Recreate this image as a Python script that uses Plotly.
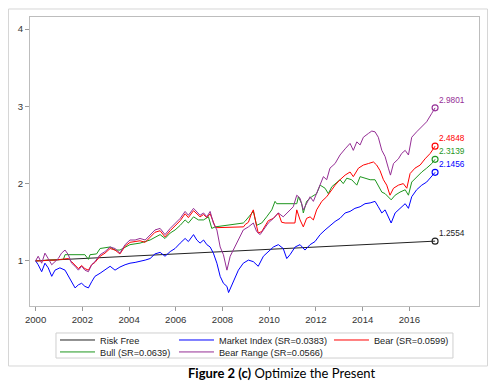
import plotly.graph_objects as go

# ---------------- data ----------------
rf_t = [2000.0, 2004.0, 2008.0, 2012.0, 2017.1]
rf_v = [1.0, 1.058, 1.12, 1.18, 1.2554]

mkt_t = [2000.00, 2000.11, 2000.26, 2000.40, 2000.54, 2000.69, 2000.83, 2001.04, 2001.26, 2001.40,
         2001.54, 2001.69, 2001.83, 2001.97, 2002.11, 2002.26, 2002.40, 2002.54, 2002.76, 2002.97,
         2003.19, 2003.40, 2003.61, 2003.83, 2004.04, 2004.26, 2004.47, 2004.69, 2004.90, 2005.11,
         2005.33, 2005.54, 2005.76, 2005.97, 2006.19, 2006.40, 2006.54, 2006.76, 2006.90, 2007.04,
         2007.19, 2007.33, 2007.47, 2007.61, 2007.76, 2007.90, 2008.04, 2008.19, 2008.26, 2008.40,
         2008.54, 2008.68, 2008.89, 2009.11, 2009.32, 2009.53, 2009.75, 2009.96, 2010.18, 2010.39,
         2010.60, 2010.75, 2010.89, 2011.11, 2011.32, 2011.53, 2011.75, 2011.96, 2012.18, 2012.39,
         2012.60, 2012.82, 2013.03, 2013.25, 2013.46, 2013.67, 2013.89, 2014.10, 2014.32, 2014.53,
         2014.67, 2014.82, 2014.96, 2015.10, 2015.22, 2015.39, 2015.60, 2015.82, 2015.96, 2016.10,
         2016.31, 2016.53, 2016.74, 2016.96, 2017.10]
mkt_v = [1.00, 0.95, 0.86, 0.97, 0.91, 0.80, 0.88, 0.91, 0.88, 0.80,
         0.73, 0.65, 0.69, 0.71, 0.67, 0.65, 0.73, 0.80, 0.84, 0.88,
         0.93, 0.88, 0.92, 0.95, 0.97, 0.98, 0.99, 1.01, 1.03, 1.09,
         1.11, 1.06, 1.12, 1.16, 1.23, 1.29, 1.25, 1.34, 1.27, 1.23,
         1.27, 1.21, 1.18, 1.10, 0.97, 0.80, 0.71, 0.67, 0.59, 0.69,
         0.80, 0.88, 0.97, 1.01, 0.99, 0.93, 1.06, 1.12, 1.18, 1.21,
         1.16, 1.03, 1.08, 1.18, 1.21, 1.14, 1.21, 1.25, 1.34, 1.40,
         1.46, 1.51, 1.55, 1.62, 1.64, 1.68, 1.70, 1.74, 1.75, 1.77,
         1.70, 1.62, 1.66, 1.57, 1.49, 1.62, 1.68, 1.74, 1.68, 1.83,
         1.92, 1.98, 2.02, 2.09, 2.1456]

bear_t = [2000.00, 2000.26, 2000.54, 2000.83, 2001.11, 2001.40, 2001.54, 2001.69, 2001.83, 2001.97,
          2002.11, 2002.26, 2002.40, 2002.54, 2002.76, 2002.97, 2003.19, 2003.40, 2003.61, 2003.83,
          2004.04, 2004.26, 2004.47, 2004.69, 2004.90, 2005.11, 2005.33, 2005.54, 2005.76, 2005.97,
          2006.19, 2006.40, 2006.54, 2006.76, 2006.90, 2007.04, 2007.19, 2007.33, 2007.47, 2007.61,
          2007.69, 2007.76, 2008.90, 2008.97, 2009.11, 2009.25, 2009.32, 2009.46, 2009.53, 2009.68,
          2009.96, 2010.18, 2010.39, 2010.53, 2010.68, 2011.10, 2011.18, 2011.32, 2011.46, 2011.60,
          2011.75, 2011.89, 2012.03, 2012.25, 2012.46, 2012.68, 2012.82, 2013.03, 2013.25, 2013.46,
          2013.60, 2013.82, 2014.03, 2014.25, 2014.46, 2014.60, 2014.74, 2014.89, 2015.03, 2015.17,
          2015.32, 2015.53, 2015.74, 2015.89, 2016.03, 2016.24, 2016.46, 2016.67, 2016.89, 2017.10]
bear_v = [1.00, 1.00, 1.01, 1.01, 1.02, 1.03, 0.99, 0.95, 0.90, 0.94,
          0.90, 0.88, 0.95, 0.98, 1.06, 1.10, 1.16, 1.14, 1.09, 1.19,
          1.24, 1.25, 1.26, 1.24, 1.31, 1.37, 1.39, 1.31, 1.39, 1.46,
          1.52, 1.61, 1.56, 1.65, 1.61, 1.57, 1.60, 1.56, 1.61, 1.50,
          1.44, 1.43, 1.44, 1.47, 1.50, 1.62, 1.66, 1.45, 1.36, 1.38,
          1.52, 1.55, 1.62, 1.50, 1.49, 1.49, 1.66, 1.53, 1.44, 1.55,
          1.57, 1.53, 1.66, 1.77, 1.83, 1.92, 1.98, 2.05, 2.11, 2.15,
          2.09, 2.20, 2.24, 2.26, 2.28, 2.24, 2.17, 2.05, 1.98, 1.85,
          1.94, 1.98, 2.00, 1.94, 2.13, 2.20, 2.24, 2.32, 2.39, 2.4848]

bull_t = [2000.00, 2000.54, 2001.04, 2001.19, 2001.26, 2001.54, 2002.11, 2002.26, 2002.33, 2002.61,
          2002.76, 2003.19, 2003.40, 2003.61, 2003.83, 2004.04, 2004.47, 2004.90, 2005.33, 2005.54,
          2005.76, 2005.97, 2006.19, 2006.40, 2006.54, 2006.76, 2006.97, 2007.19, 2007.40, 2007.54,
          2007.69, 2008.54, 2008.89, 2008.96, 2009.18, 2009.32, 2009.46, 2009.68, 2009.89, 2010.11,
          2010.25, 2010.32, 2011.18, 2011.25, 2011.39, 2011.46, 2011.60, 2011.82, 2012.03, 2012.18,
          2012.39, 2012.53, 2012.68, 2012.82, 2013.03, 2013.17, 2013.32, 2013.53, 2013.75, 2013.89,
          2014.10, 2014.32, 2014.53, 2014.67, 2014.82, 2014.96, 2015.10, 2015.22, 2015.39, 2015.60,
          2015.82, 2015.96, 2016.10, 2016.31, 2016.53, 2016.74, 2016.96, 2017.10]
bull_v = [1.00, 1.01, 1.02, 1.02, 1.08, 1.08, 1.08, 1.02, 1.08, 1.09,
          1.16, 1.18, 1.14, 1.14, 1.18, 1.21, 1.23, 1.27, 1.34, 1.29,
          1.36, 1.40, 1.46, 1.53, 1.49, 1.57, 1.53, 1.53, 1.57, 1.42,
          1.44, 1.47, 1.49, 1.51, 1.59, 1.64, 1.46, 1.49, 1.57, 1.66,
          1.77, 1.74, 1.74, 1.83, 1.74, 1.62, 1.77, 1.83, 1.87, 1.98,
          1.94, 1.87, 1.96, 2.00, 2.05, 2.00, 2.07, 2.05, 1.98, 2.09,
          2.07, 2.05, 2.05, 1.98, 1.89, 1.87, 1.83, 1.79, 1.85, 1.89,
          1.92, 1.85, 2.02, 2.09, 2.15, 2.20, 2.26, 2.3139]

brange_t = [2000.00, 2000.11, 2000.26, 2000.40, 2000.54, 2000.69, 2000.83, 2000.97, 2001.11, 2001.26,
            2001.40, 2001.54, 2001.69, 2001.83, 2001.97, 2002.11, 2002.26, 2002.40, 2002.54, 2002.76,
            2002.97, 2003.19, 2003.40, 2003.61, 2003.83, 2004.04, 2004.26, 2004.47, 2004.69, 2004.90,
            2005.11, 2005.33, 2005.54, 2005.76, 2005.97, 2006.19, 2006.40, 2006.54, 2006.76, 2006.90,
            2007.04, 2007.19, 2007.33, 2007.47, 2007.61, 2007.76, 2007.90, 2008.04, 2008.19, 2008.33,
            2008.47, 2008.61, 2008.75, 2008.89, 2009.11, 2009.32, 2009.46, 2009.61, 2009.75, 2009.96,
            2010.18, 2010.39, 2010.60, 2010.82, 2011.03, 2011.18, 2011.32, 2011.46, 2011.60, 2011.75,
            2011.89, 2012.03, 2012.18, 2012.32, 2012.46, 2012.60, 2012.82, 2013.03, 2013.25, 2013.46,
            2013.60, 2013.75, 2013.89, 2014.03, 2014.25, 2014.39, 2014.53, 2014.67, 2014.82, 2014.96,
            2015.10, 2015.19, 2015.32, 2015.53, 2015.67, 2015.82, 2015.96, 2016.10, 2016.31, 2016.53,
            2016.74, 2016.96, 2017.10]
brange_v = [1.00, 1.06, 0.97, 1.10, 1.03, 0.95, 0.99, 1.03, 1.10, 1.14,
            1.08, 0.97, 0.93, 0.88, 0.93, 0.88, 0.86, 0.95, 0.99, 1.08,
            1.12, 1.18, 1.16, 1.10, 1.21, 1.27, 1.27, 1.29, 1.27, 1.34,
            1.40, 1.42, 1.34, 1.42, 1.49, 1.55, 1.64, 1.59, 1.68, 1.64,
            1.59, 1.62, 1.57, 1.64, 1.49, 1.40, 1.18, 1.08, 0.88, 1.06,
            1.14, 1.22, 1.30, 1.40, 1.44, 1.49, 1.38, 1.34, 1.40, 1.49,
            1.55, 1.62, 1.57, 1.64, 1.70, 1.85, 1.81, 1.66, 1.74, 1.83,
            1.77, 1.87, 2.00, 2.09, 2.05, 2.20, 2.26, 2.37, 2.45, 2.52,
            2.43, 2.54, 2.50, 2.60, 2.65, 2.68, 2.67, 2.60, 2.43, 2.35,
            2.20, 2.11, 2.26, 2.32, 2.39, 2.43, 2.37, 2.60, 2.67, 2.73,
            2.80, 2.91, 2.9801]

x_ticks = [2000, 2002, 2004, 2006, 2008, 2010, 2012, 2014, 2016]
y_ticks = [1, 2, 3, 4]

series = [
    ("Risk Free", rf_t, rf_v, "#222222", "legend"),
    ("Market Index (SR=0.0383)", mkt_t, mkt_v, "#0000FF", "legend2"),
    ("Bear (SR=0.0599)", bear_t, bear_v, "#FF0000", "legend3"),
    ("Bull (SR=0.0639)", bull_t, bull_v, "#1E961E", "legend4"),
    ("Bear Range (SR=0.0566)", brange_t, brange_v, "#952E95", "legend5"),
]
draw_order = [0, 1, 3, 2, 4]

FONT = "Liberation Sans, Arial, sans-serif"
fig = go.Figure()
for i in draw_order:
    name, t, v, col, lg = series[i]
    fig.add_trace(go.Scatter(x=t, y=v, mode="lines", name=name, legend=lg,
                             line=dict(color=col, width=1)))
for i in draw_order:
    name, t, v, col, lg = series[i]
    fig.add_trace(go.Scatter(x=[t[-1]], y=[v[-1]], mode="markers", showlegend=False,
                             marker=dict(symbol="circle-open", size=6, color=col,
                                         line=dict(width=1.1, color=col))))
    fig.add_annotation(x=t[-1], y=v[-1], text=f"{v[-1]:.4f}", showarrow=False,
                       xanchor="left", yanchor="middle", xshift=2, yshift=8,
                       font=dict(family=FONT, size=8.3, color=col))

legend_common = dict(orientation="v", xanchor="left", yanchor="middle", bgcolor="rgba(0,0,0,0)",
                     borderwidth=0, itemwidth=35, font=dict(family=FONT, size=9.2, color="#222"))
col_x = [0.0557, 0.3207, 0.6659]
row_y = [-0.1176, -0.159]
fig.update_layout(
    legend=dict(x=col_x[0], y=row_y[0], **legend_common),
    legend2=dict(x=col_x[1], y=row_y[0], **legend_common),
    legend3=dict(x=col_x[2], y=row_y[0], **legend_common),
    legend4=dict(x=col_x[0], y=row_y[1], **legend_common),
    legend5=dict(x=col_x[1], y=row_y[1], **legend_common),
)

# legend box and outer frame
fig.add_shape(type="rect", xref="paper", yref="paper", x0=0.0579, x1=0.942, y0=-0.18, y1=-0.0934,
              line=dict(color="#cfcfcf", width=1), layer="below")
fig.add_shape(type="rect", xref="paper", yref="paper", x0=-0.0479, x1=1.0189, y0=-0.2076, y1=1.0277,
              line=dict(color="#d6d6d6", width=1), layer="below")

fig.add_annotation(xref="paper", yref="paper", x=0.561, y=-0.2318, showarrow=False,
                   text="<b>Figure 2 (c)</b> Optimize the Present",
                   xanchor="center", yanchor="middle",
                   font=dict(family="Lato, Open Sans, sans-serif", size=13, color="#000"))

axis_common = dict(showline=True, linecolor="#bdbdbd", linewidth=1, mirror=True, showgrid=False,
                   zeroline=False, ticks="outside", ticklen=4, tickcolor="#9a9a9a",
                   tickfont=dict(family=FONT, size=9.6, color="#333"))
fig.update_xaxes(range=[1999.76, 2018.98], tickmode="array", tickvals=x_ticks,
                 ticktext=[str(x) for x in x_ticks], **axis_common)
fig.update_yaxes(range=[0.416, 4.156], tickmode="array", tickvals=y_ticks,
                 ticktext=[str(y) for y in y_ticks], **axis_common)

# the page adds an 8px body margin, so the figure is sized to fit inside the window
fig.update_layout(width=480, height=373, margin=dict(l=22, r=9, t=9, b=75),
                  paper_bgcolor="white", plot_bgcolor="white", showlegend=True)
fig.write_html("out.html")
